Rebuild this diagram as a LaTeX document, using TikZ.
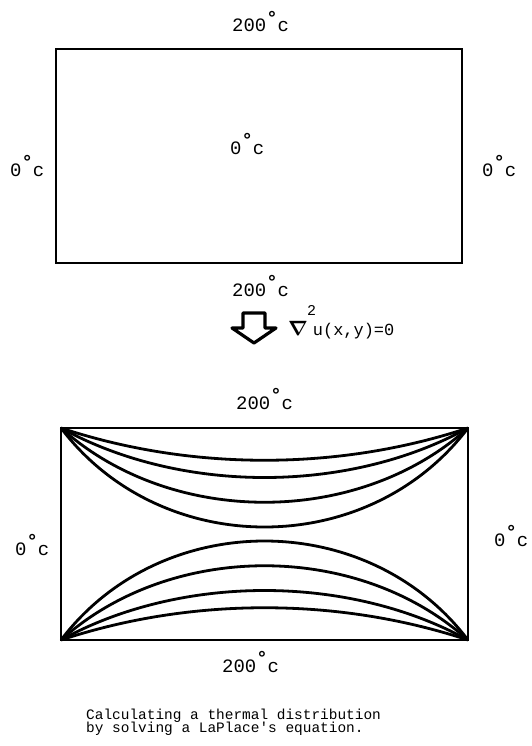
\documentclass[tikz,border=0pt]{standalone}
\usepackage{amsmath}
\usepackage{fontspec}
\setmonofont{Liberation Mono}
\usetikzlibrary{positioning}
\newcommand{\tempc}[1]{#1\raisebox{0.42em}{\bfseries°}c}
\tikzset{
  plate/.style={draw, line width=2.8bp, outer sep=0pt, inner sep=0pt},
  templabel/.style={font=\ttfamily\fontsize{19}{22}\selectfont, anchor=base west, inner sep=0pt},
  isoline/.style={line width=2.8bp},
  bigarrow/.style={line width=3.2bp, line join=round},
  caption/.style={font=\ttfamily\fontsize{14.5}{14}\selectfont, anchor=base west, inner sep=0pt}
}
\begin{document}
\begin{tikzpicture}[x=1bp, y=-1bp]
    \useasboundingbox (0,0) rectangle (532,746);
    % Placa con las condiciones de contorno
    \node[plate, minimum width=406bp, minimum height=214bp] (plate) at (259,156) {};
    \node[templabel] (ptop) at (232,32) {\tempc{200}};
    \node[templabel] (pmid) at (230,154) {\tempc{0}};
    \node[templabel] (pleft) at (10,176) {\tempc{0}};
    \node[templabel] (pright) at (482,176) {\tempc{0}};
    \node[templabel] (pbot) at (232,296) {\tempc{200}};
    % Flecha y ecuacion de Laplace
    \draw[bigarrow] (243,313) -- (265,313) -- (265,328) -- (276,328)
        -- (254,343) -- (232,328) -- (243,328) -- cycle;
    \node[anchor=base west, inner sep=0pt] (lap) at (288,335)
        {\fontsize{22}{24}\selectfont$\boldsymbol{\nabla}$\hspace{-1bp}\raisebox{20bp}{\ttfamily\fontsize{15}{15}\selectfont 2}%
         \hspace{-3bp}{\ttfamily\fontsize{17}{20}\selectfont u(x,y)=0}};
    % Solucion: isotermas
    \node[plate, minimum width=407bp, minimum height=212bp] (grid) at (264.5,534) {};
    \foreach \h/\a in {43/130, 66/120, 99/110, 132/100}{
        \draw[isoline] (grid.north west) .. controls +(\a,\h) and +(-\a,\h) .. (grid.north east);
        \draw[isoline] (grid.south west) .. controls +(\a,-\h) and +(-\a,-\h) .. (grid.south east);
    }
    \node[templabel] (gtop) at (236,409) {\tempc{200}};
    \node[templabel] (gleft) at (15,555) {\tempc{0}};
    \node[templabel] (gright) at (494,546) {\tempc{0}};
    \node[templabel] (gbot) at (222,672) {\tempc{200}};
    % Pie
    \node[caption] (cap1) at (86,719) {Calculating a thermal distribution};
    \node[caption] (cap2) at (86,732) {by solving a LaPlace's equation.};
\end{tikzpicture}
\end{document}
